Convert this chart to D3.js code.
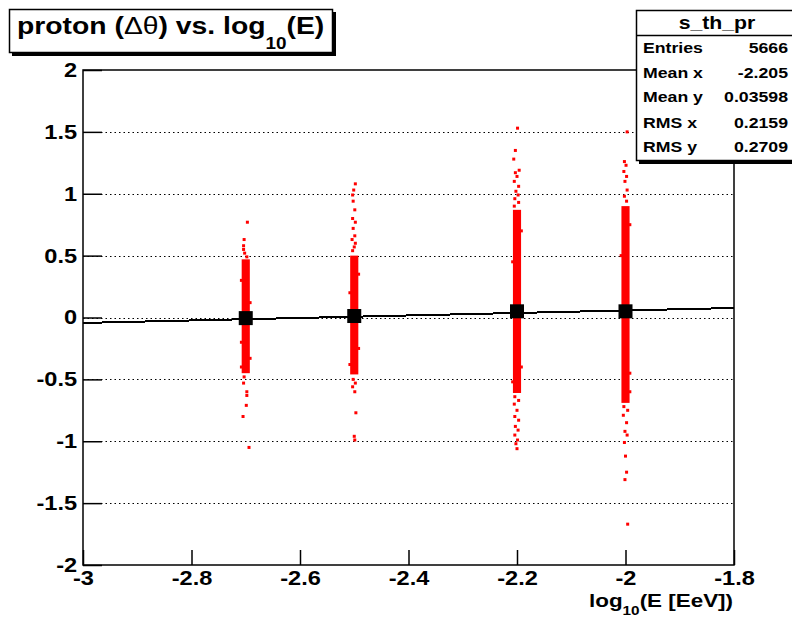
<!DOCTYPE html>
<meta charset="utf-8">
<head>
<script src="https://d3js.org/d3.v7.min.js"></script>
<style>
  body { margin: 0; background: #fff; }
  text { font-family: "Liberation Sans", Arial, Helvetica, sans-serif; }
</style>
</head>
<body>
<div id="my_dataviz"></div>
<script>

// bin centres (log10 E) and profile means
var binX = [-2.7, -2.5, -2.2, -2.0];
var profMean = [-0.005, 0.012, 0.05, 0.05];

// dense core of each column (delta theta range)
var bandLo = [-0.45, -0.46, -0.61, -0.69];
var bandHi = [0.47, 0.50, 0.87, 0.90];

// sparse points outside / along the edges of the cores: [bin index, dx, delta theta]
var outliers = [
  [0, 0.003, 0.77], [0, -0.003, 0.63], [0, -0.004, 0.58], [0, -0.004, 0.55], [0, -0.002, 0.52], [0, 0.002, 0.49],
  [0, -0.003, -0.48], [0, -0.004, -0.53], [0, 0.002, -0.6], [0, 0.002, -0.63], [0, 0.001, -0.71], [0, -0.005, -0.8], [0, 0.006, -1.05],
  [0, -0.008, 0.3], [0, 0.008, 0.12], [0, -0.008, -0.2], [0, 0.008, -0.33], [0, -0.008, -0.4],
  [1, 0.002, 1.08], [1, -0.001, 1.03], [1, -0.003, 0.99], [1, -0.002, 0.94], [1, 0.001, 0.87], [1, -0.003, 0.8],
  [1, 0.002, 0.77], [1, -0.002, 0.72], [1, 0.001, 0.66], [1, -0.004, 0.63], [1, 0.002, 0.6], [1, 0.0, 0.57], [1, -0.003, 0.54],
  [1, -0.002, -0.5], [1, 0.002, -0.53], [1, -0.003, -0.56], [1, 0.001, -0.6], [1, 0.003, -0.77], [1, 0.0, -0.96], [1, 0.001, -0.99],
  [1, 0.008, 0.35], [1, -0.008, 0.2], [1, 0.008, -0.25], [1, -0.008, -0.38],
  [2, 0.001, 1.53], [2, -0.003, 1.35], [2, -0.006, 1.28], [2, 0.004, 1.19], [2, -0.003, 1.17], [2, 0.0, 1.14], [2, -0.005, 1.1],
  [2, 0.003, 1.06], [2, -0.002, 1.02], [2, 0.002, 0.99], [2, -0.004, 0.96], [2, 0.003, 0.93], [2, -0.005, 0.9],
  [2, -0.004, -0.64], [2, 0.003, -0.67], [2, -0.005, -0.7], [2, 0.0, -0.75], [2, -0.004, -0.8], [2, 0.003, -0.83],
  [2, -0.003, -0.88], [2, 0.002, -0.91], [2, -0.004, -0.95], [2, 0.001, -0.99], [2, -0.002, -1.02], [2, 0.0, -1.06],
  [2, 0.008, 0.7], [2, -0.008, 0.45], [2, 0.008, -0.4], [2, -0.008, -0.52],
  [3, 0.003, 1.5], [3, -0.002, 1.26], [3, 0.001, 1.23], [3, -0.003, 1.18], [3, 0.002, 1.14], [3, -0.001, 1.1],
  [3, 0.003, 1.03], [3, -0.002, 0.98], [3, 0.002, 0.94],
  [3, -0.003, -0.72], [3, 0.004, -0.75], [3, -0.004, -0.79], [3, 0.002, -0.85], [3, -0.001, -0.92], [3, 0.003, -0.95],
  [3, -0.002, -1.01], [3, 0.0, -1.12], [3, 0.002, -1.25], [3, -0.001, -1.31], [3, 0.004, -1.67],
  [3, 0.008, 0.75], [3, -0.008, 0.5], [3, 0.008, -0.45], [3, 0.008, -0.6]
];

// straight line fit: [x, y] at both ends of the axis
var fitLine = [[-3.0, -0.044], [-1.8, 0.077]];

// axis ticks
var xMajor = [-3, -2.8, -2.6, -2.4, -2.2, -2, -1.8];
var yMajor = [-2, -1.5, -1, -0.5, 0, 0.5, 1, 1.5, 2];

// stats box
var statsTitle = "s_th_pr";
var statsRows = [["Entries", "5666"], ["Mean x", "-2.205"], ["Mean y", "0.03598"], ["RMS x", "0.2159"], ["RMS y", "0.2709"]];

var W = 792, H = 619;
var stretch = 1.18;

var svg = d3.select("#my_dataviz")
  .append("svg")
    .attr("width", W)
    .attr("height", H);

var x = d3.scaleLinear().domain([-3, -1.8]).range([83, 734]);
var y = d3.scaleLinear().domain([-2, 2]).range([565, 70]);

var xMinor = d3.range(-3, -1.79, 0.05).filter(function(v){ return Math.abs(Math.round(v * 5) - v * 5) > 1e-6 });
var yMinor = d3.range(-2, 2.01, 0.1).filter(function(v){ return Math.abs(Math.round(v * 2) - v * 2) > 1e-6 });
var fmt = function(d){ return String(+d.toFixed(2)) };

// dotted horizontal grid
svg.selectAll(".grid")
  .data(yMajor.slice(1, -1))
  .enter()
  .append("line")
    .attr("x1", x(-3)).attr("x2", x(-1.8))
    .attr("y1", function(d){ return Math.round(y(d)) + 0.5 })
    .attr("y2", function(d){ return Math.round(y(d)) + 0.5 })
    .attr("stroke", "#000")
    .attr("stroke-width", 1.2)
    .attr("stroke-dasharray", "1.5,3");

// red scatter: dense cores
svg.selectAll(".band")
  .data(binX)
  .enter()
  .append("rect")
    .attr("x", function(d){ return x(d - 0.0075) })
    .attr("width", function(d){ return x(d + 0.0075) - x(d - 0.0075) })
    .attr("y", function(d, i){ return y(bandHi[i]) })
    .attr("height", function(d, i){ return y(bandLo[i]) - y(bandHi[i]) })
    .attr("fill", "#ff0000");

// red scatter: sparse points
svg.selectAll(".pt")
  .data(outliers)
  .enter()
  .append("rect")
    .attr("x", function(d){ return x(binX[d[0]] + d[1]) - 1.5 })
    .attr("y", function(d){ return y(d[2]) - 1.5 })
    .attr("width", 3)
    .attr("height", 3)
    .attr("fill", "#ff0000");

// fit line
svg.append("path")
  .datum(fitLine)
  .attr("d", d3.line().x(function(d){ return x(d[0]) }).y(function(d){ return y(d[1]) }))
  .attr("stroke", "#000")
  .attr("stroke-width", 2)
  .attr("fill", "none")
  .attr("shape-rendering", "crispEdges");

// profile markers
svg.selectAll(".prof")
  .data(binX)
  .enter()
  .append("rect")
    .attr("x", function(d){ return x(d) - 7 })
    .attr("y", function(d, i){ return y(profMean[i]) - 7 })
    .attr("width", 14)
    .attr("height", 14)
    .attr("fill", "#000");

// frame
svg.append("rect")
  .attr("x", x(-3)).attr("y", y(2))
  .attr("width", x(-1.8) - x(-3))
  .attr("height", y(-2) - y(2))
  .attr("fill", "none")
  .attr("stroke", "#000")
  .attr("stroke-width", 1.5);

// axes (ticks pointing inwards, ROOT style)
var gx = svg.append("g").attr("transform", "translate(0," + y(-2) + ")");
gx.call(d3.axisBottom(x).tickValues(xMinor).tickSize(-7.5).tickFormat(""));
gx.call(d3.axisBottom(x).tickValues(xMajor).tickSize(-15).tickPadding(6).tickFormat(fmt));

var gy = svg.append("g").attr("transform", "translate(" + x(-3) + ",0)");
gy.call(d3.axisLeft(y).tickValues(yMinor).tickSize(-10).tickFormat(""));
gy.call(d3.axisLeft(y).tickValues(yMajor).tickSize(-19).tickPadding(5).tickFormat(fmt));

svg.selectAll(".domain").remove();
svg.selectAll(".tick line").attr("stroke-width", 1.5);
svg.selectAll(".tick text")
  .attr("font-size", "20px")
  .attr("font-weight", "bold")
  .attr("font-family", "Liberation Sans, Arial, sans-serif")
  .attr("fill", "#000")
  .attr("transform", "scale(" + stretch + ",1)");
gx.selectAll(".tick text").attr("dy", "0.7em");

// stretched text helper
function label(x0, y0, anchor, size) {
  return svg.append("g")
    .attr("transform", "translate(" + x0 + "," + y0 + ") scale(" + stretch + ",1)")
    .append("text")
      .attr("text-anchor", anchor)
      .attr("font-size", size + "px")
      .attr("font-weight", "bold")
      .attr("fill", "#000");
}

// x axis title
var xt = label(733, 607, "end", 19);
xt.append("tspan").text("log");
xt.append("tspan").attr("font-size", "13px").attr("dy", 8).text("10");
xt.append("tspan").attr("dy", -8).text("(E [EeV])");

// title box
svg.append("rect").attr("x", 12).attr("y", 12).attr("width", 324).attr("height", 44).attr("fill", "#000");
svg.append("rect").attr("x", 9.5).attr("y", 9.5).attr("width", 323).attr("height", 43)
  .attr("fill", "#fff").attr("stroke", "#000").attr("stroke-width", 1.5);
var tt = label(17, 34, "start", 24);
tt.append("tspan").text("proton (");
tt.append("tspan").attr("font-weight", "normal").text("\u0394\u03b8");
tt.append("tspan").text(") vs. log");
tt.append("tspan").attr("font-size", "16px").attr("dy", 15).text("10");
tt.append("tspan").attr("dy", -15).text("(E)");

// stats box
svg.append("rect").attr("x", 639).attr("y", 13).attr("width", 170).attr("height", 151).attr("fill", "#000");
svg.append("rect").attr("x", 636.5).attr("y", 10.5).attr("width", 170).attr("height", 150)
  .attr("fill", "#fff").attr("stroke", "#000").attr("stroke-width", 1.5);
svg.append("line").attr("x1", 636.5).attr("x2", 806).attr("y1", 35.5).attr("y2", 35.5)
  .attr("stroke", "#000").attr("stroke-width", 1.5);
label(717, 29, "middle", 18).text(statsTitle);

var rowY = [53, 78, 102, 128, 152];
statsRows.forEach(function(r, i) {
  label(643, rowY[i], "start", 15).text(r[0]);
  label(788, rowY[i], "end", 15).text(r[1]);
});

</script>
</body>
